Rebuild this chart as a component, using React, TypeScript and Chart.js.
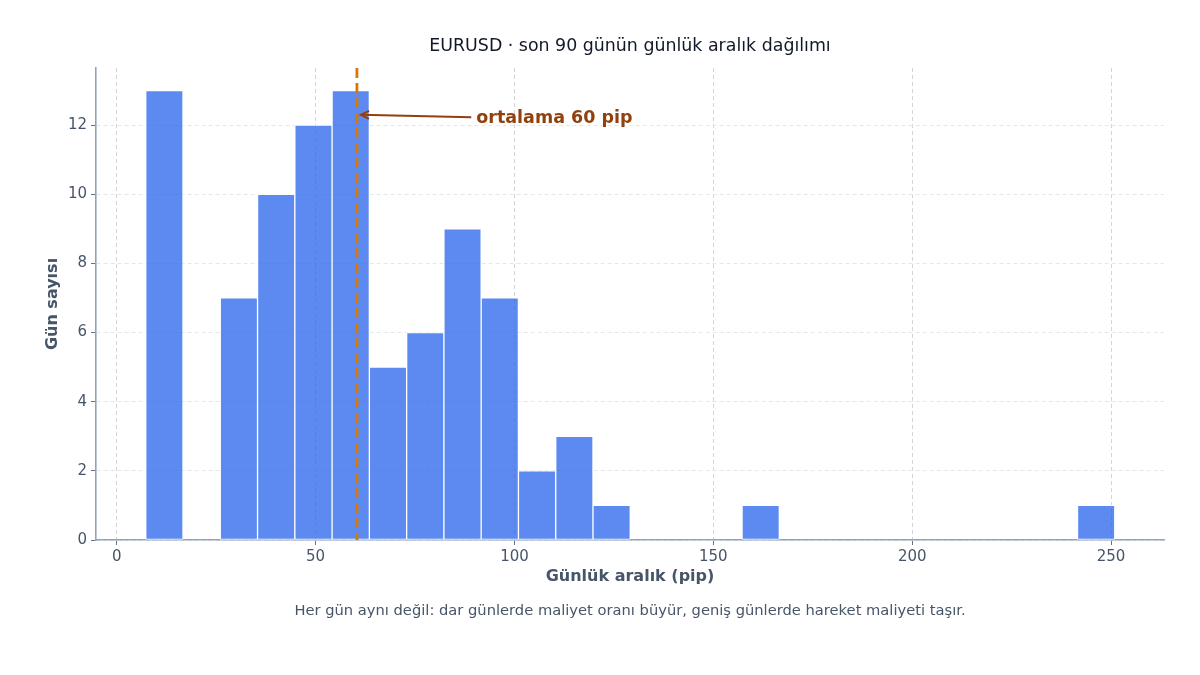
import { useEffect, useRef } from "react";
import { Chart, registerables } from "chart.js";
import React from "react";

Chart.register(...registerables);

// histogram bins (centres, pip) and day counts
const binCenters = [
  11.99, 21.36, 30.73, 40.1, 49.47, 58.84, 68.21, 77.58, 86.95, 96.32, 105.69, 115.06, 124.43,
  133.8, 143.17, 152.54, 161.91, 171.28, 180.65, 190.02, 199.39, 208.76, 218.13, 227.5, 236.87, 246.24,
];
const dayCounts = [13, 0, 7, 10, 12, 13, 5, 6, 9, 7, 2, 3, 1, 0, 0, 0, 1, 0, 0, 0, 0, 0, 0, 0, 0, 1];
const xTicks = [0, 50, 100, 150, 200, 250];
const yTicks = [0, 2, 4, 6, 8, 10, 12];
const meanPip = 60.4;

const title = "EURUSD · son 90 günün günlük aralık dağılımı";
const caption = "Her gün aynı değil: dar günlerde maliyet oranı büyür, geniş günlerde hareket maliyeti taşır.";
const xTitle = "Günlük aralık (pip)";
const yTitle = "Gün sayısı";
const meanLabel = "ortalama 60 pip";

const FONT = "'DejaVu Sans', sans-serif";

const overlay = {
  id: "overlay",
  afterDatasetsDraw(chart: any) {
    const { ctx, chartArea, scales } = chart;
    const x = scales.x;
    const y = scales.y;

    // mean line
    const mx = x.getPixelForValue(meanPip);
    ctx.save();
    ctx.strokeStyle = "#d97706";
    ctx.lineWidth = 2.8;
    ctx.setLineDash([10, 5]);
    ctx.beginPath();
    ctx.moveTo(mx, chartArea.top);
    ctx.lineTo(mx, chartArea.bottom);
    ctx.stroke();
    ctx.restore();

    // annotation
    const tipX = x.getPixelForValue(meanPip + 1);
    const tipY = y.getPixelForValue(12.3);
    const tx = x.getPixelForValue(meanPip + 30);
    const ty = y.getPixelForValue(12.2);
    ctx.save();
    ctx.strokeStyle = "#92400e";
    ctx.lineWidth = 2;
    ctx.beginPath();
    ctx.moveTo(tx - 5, ty - 1);
    ctx.lineTo(tipX, tipY);
    ctx.stroke();
    const ang = Math.atan2(tipY - (ty - 1), tipX - (tx - 5));
    const hl = 9;
    ctx.beginPath();
    ctx.moveTo(tipX - hl * Math.cos(ang - 0.45), tipY - hl * Math.sin(ang - 0.45));
    ctx.lineTo(tipX, tipY);
    ctx.lineTo(tipX - hl * Math.cos(ang + 0.45), tipY - hl * Math.sin(ang + 0.45));
    ctx.stroke();
    ctx.fillStyle = "#92400e";
    ctx.font = `bold 17.5px ${FONT}`;
    ctx.textAlign = "left";
    ctx.textBaseline = "middle";
    ctx.fillText(meanLabel, tx, ty);
    ctx.restore();
  },
  afterDraw(chart: any) {
    const { ctx, chartArea } = chart;
    const cx = (chartArea.left + chartArea.right) / 2;
    ctx.save();
    ctx.textAlign = "center";
    ctx.textBaseline = "middle";
    ctx.fillStyle = "#111827";
    ctx.font = `17.4px ${FONT}`;
    ctx.fillText(title, cx, 46);
    ctx.fillStyle = "#475569";
    ctx.font = `14.7px ${FONT}`;
    ctx.fillText(caption, cx, 611);
    ctx.fillStyle = "#475569";
    ctx.font = `bold 16px ${FONT}`;
    ctx.fillText(xTitle, cx, 577);
    ctx.translate(53, (chartArea.top + chartArea.bottom) / 2);
    ctx.rotate(-Math.PI / 2);
    ctx.fillText(yTitle, 0, 0);
    ctx.restore();
  },
};

const App: React.FC = () => {
  const chartRef = useRef<HTMLCanvasElement>(null);

  useEffect(() => {
    document.body.style.margin = "0";
    let myChart: Chart | null = null;

    if (chartRef.current) {
      const ctx = chartRef.current.getContext("2d");
      if (ctx) {
        myChart = new Chart(ctx, {
          type: "bar",
          data: {
            datasets: [
              {
                data: binCenters.map((c, i) => ({ x: c, y: dayCounts[i] })),
                backgroundColor: "rgba(37, 99, 235, 0.75)",
                borderColor: "rgba(255, 255, 255, 0.9)",
                borderWidth: 1,
                borderSkipped: false,
                barPercentage: 1,
                categoryPercentage: 1,
              },
            ],
          },
          options: {
            animation: false,
            responsive: true,
            maintainAspectRatio: false,
            layout: {
              padding: { left: 0, top: 68, right: 36, bottom: 0 },
            },
            plugins: {
              legend: { display: false },
              title: { display: false },
              tooltip: { enabled: false },
            },
            scales: {
              x: {
                type: "linear",
                min: -5.2,
                max: 263.3,
                offset: false,
                afterFit: (scale: any) => {
                  scale.height = 135;
                },
                afterBuildTicks: (scale: any) => {
                  scale.ticks = xTicks.map((v) => ({ value: v }));
                },
                ticks: {
                  includeBounds: false,
                  color: "#475569",
                  padding: 3,
                  font: { family: FONT, size: 15 },
                },
                grid: {
                  offset: false,
                  color: "#d1d5db",
                  lineWidth: 1,
                  tickColor: "#64748b",
                  tickLength: 5,
                },
                border: { color: "#94a3b8", width: 1.6, dash: [4, 3] },
              },
              y: {
                type: "linear",
                min: 0,
                max: 13.65,
                afterFit: (scale: any) => {
                  scale.width = 96;
                },
                afterBuildTicks: (scale: any) => {
                  scale.ticks = yTicks.map((v) => ({ value: v }));
                },
                ticks: {
                  includeBounds: false,
                  color: "#475569",
                  padding: 4,
                  font: { family: FONT, size: 15 },
                },
                grid: {
                  color: "#e5e7eb",
                  lineWidth: 1,
                  tickColor: "#64748b",
                  tickLength: 5,
                },
                border: { color: "#94a3b8", width: 1.6, dash: [4, 3] },
              },
            },
          },
          plugins: [overlay],
        });
      }
    }

    return () => {
      if (myChart) {
        myChart.destroy();
      }
    };
  }, []);

  return (
    <div style={{ width: 1200, height: 675, background: "#ffffff", position: "relative" }}>
      <canvas ref={chartRef}></canvas>
    </div>
  );
};

export default App;
